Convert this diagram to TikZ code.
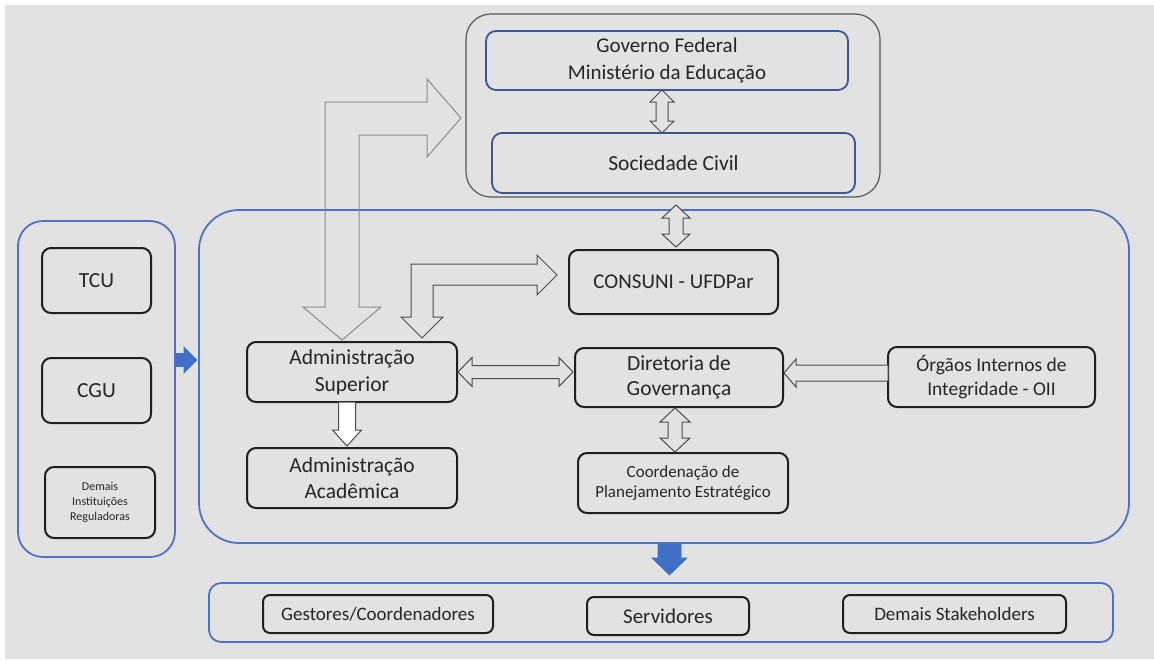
\documentclass[tikz,border=0pt]{standalone}
\usepackage{fontspec}
\setmainfont{Carlito}
\definecolor{bgc}{HTML}{E2E2E2}
\definecolor{txt}{HTML}{262626}
\definecolor{blueline}{HTML}{4F72C4}
\definecolor{darkblue}{HTML}{3A5795}
\definecolor{bluefill}{HTML}{3F6FC6}
\newcommand{\fs}[2]{\fontsize{#1}{#2}\selectfont}
\newcommand{\vdarrow}[7]{% x, ytop, ybot, shaft half, head half, head len, style
  \draw[#7] (#1,#2) -- ({#1+#5},{#2+#6}) -- ({#1+#4},{#2+#6}) -- ({#1+#4},{#3-#6}) -- ({#1+#5},{#3-#6}) -- (#1,#3)
   -- ({#1-#5},{#3-#6}) -- ({#1-#4},{#3-#6}) -- ({#1-#4},{#2+#6}) -- ({#1-#5},{#2+#6}) -- cycle;}
\newcommand{\hdarrow}[7]{% y, xleft, xright, shaft half, head half, head len, style
  \draw[#7] (#2,#1) -- ({#2+#6},{#1-#5}) -- ({#2+#6},{#1-#4}) -- ({#3-#6},{#1-#4}) -- ({#3-#6},{#1-#5}) -- (#3,#1)
   -- ({#3-#6},{#1+#5}) -- ({#3-#6},{#1+#4}) -- ({#2+#6},{#1+#4}) -- ({#2+#6},{#1+#5}) -- cycle;}
\begin{document}
\begin{tikzpicture}[x=1pt,y=-1pt,
  container/.style={draw=blueline, line width=1.8pt, inner sep=0pt},
  bluebox/.style={draw=darkblue, line width=1.8pt, rounded corners=10pt, inner sep=0pt, align=center, text=txt},
  box/.style={draw=black!88, line width=2pt, rounded corners=9pt, inner sep=0pt, align=center, text=txt},
  hollow/.style={draw=black!70, line width=1pt, fill=bgc, line join=miter},
  bluearrow/.style={fill=bluefill, draw=bluefill, line width=0.6pt}
]
\useasboundingbox (0,0) rectangle (1154,659);
\fill[white] (0,0) rectangle (1154,659);
\fill[bgc] (5,5) rectangle (1154,659);

% containers
\node[draw=black!65, line width=1.2pt, rounded corners=25pt, minimum width=414pt, minimum height=183pt, inner sep=0pt] (topc) at (673,105.5) {};
\node[container, rounded corners=40pt, minimum width=930pt, minimum height=333pt] (mainc) at (664,376.5) {};
\node[container, rounded corners=25pt, minimum width=157pt, minimum height=336pt] (leftc) at (96.5,389) {};
\node[container, rounded corners=12pt, minimum width=904pt, minimum height=59pt] (botc) at (661,612.5) {};

% top boxes
\node[bluebox, minimum width=362pt, minimum height=59pt, font=\fs{21}{27}] (gov) at (667,60.5) {Governo Federal\\Ministério da Educação};
\node[bluebox, minimum width=363pt, minimum height=60pt, font=\fs{21.5}{26}] (soc) at (673.5,163) {Sociedade Civil};

% left boxes
\node[box, minimum width=109pt, minimum height=65pt, font=\fs{21.5}{26}] (tcu) at (96.5,280.5) {TCU};
\node[box, minimum width=109pt, minimum height=65pt, font=\fs{21.5}{26}] (cgu) at (96.5,390.5) {CGU};
\node[box, minimum width=110pt, minimum height=71pt, font=\fs{12}{15}] (dem) at (100,502.5) {Demais\\Instituições\\Reguladoras};

% main boxes
\node[box, minimum width=209pt, minimum height=64pt, font=\fs{21}{26}] (consuni) at (673.5,282) {CONSUNI - UFDPar};
\node[box, minimum width=210pt, minimum height=60pt, font=\fs{21.5}{27}] (admsup) at (352,372) {Administração\\Superior};
\node[box, minimum width=210pt, minimum height=60pt, font=\fs{21.5}{26}] (admac) at (352,478) {Administração\\Acadêmica};
\node[box, minimum width=208pt, minimum height=59pt, font=\fs{21.5}{25.5}] (dir) at (679,377.5) {Diretoria de\\Governança};
\node[box, minimum width=207pt, minimum height=60pt, font=\fs{19.5}{24.5}] (org) at (991.5,377) {Órgãos Internos de\\Integridade - OII};
\node[box, minimum width=210pt, minimum height=60pt, font=\fs{17}{20.5}] (coord) at (683,483) {Coordenação de\\Planejamento Estratégico};

% bottom boxes
\node[box, rounded corners=7pt, minimum width=230pt, minimum height=38pt, font=\fs{19}{23}] (gest) at (378,614) {Gestores/Coordenadores};
\node[box, rounded corners=7pt, minimum width=162pt, minimum height=38pt, font=\fs{21}{25}] (serv) at (668,616) {Servidores};
\node[box, rounded corners=7pt, minimum width=223pt, minimum height=38pt, font=\fs{19}{23}] (stake) at (954.5,614) {Demais Stakeholders};

% hollow arrows
\vdarrow{662}{90}{133}{6}{12}{12}{hollow}
\vdarrow{676}{205}{247}{7}{14}{13}{hollow}
\vdarrow{675}{408}{452}{7}{15}{14}{hollow}
\hdarrow{372}{458}{573}{6.5}{14.5}{14}{hollow}
% Orgaos -> Diretoria
\draw[hollow] (784,373) -- (796,359) -- (796,365) -- (888,365) -- (888,381) -- (796,381) -- (796,387) -- cycle;
% Adm Superior -> Adm Academica
\draw[hollow, fill=white] (347,446) -- (361.5,430) -- (355.5,430) -- (355.5,402) -- (338.5,402) -- (338.5,430) -- (332.5,430) -- cycle;

% big L arrow (Adm Superior <-> Governo)
\draw[draw=black!45, line width=1pt] (342,340) -- (381,307) -- (359,307) -- (359,135) -- (427,135) -- (427,157) -- (461,118) -- (427,79) -- (427,102) -- (325,102) -- (325,307) -- (303,307) -- cycle;
% small L arrow (Adm Superior <-> CONSUNI)
\draw[draw=black!70, line width=1pt] (422,338) -- (443,317) -- (433,317) -- (433,285) -- (537,285) -- (537,295) -- (557,275) -- (537,255) -- (537,264) -- (411,264) -- (411,317) -- (401,317) -- cycle;

% blue arrows
\draw[bluearrow] (176,353.5) -- (184,353.5) -- (184,347) -- (197,360) -- (184,373) -- (184,366.5) -- (176,366.5) -- cycle;
\draw[bluearrow] (658,544) -- (681,544) -- (681,558) -- (687,558) -- (669.5,575) -- (652,558) -- (658,558) -- cycle;
\end{tikzpicture}
\end{document}
